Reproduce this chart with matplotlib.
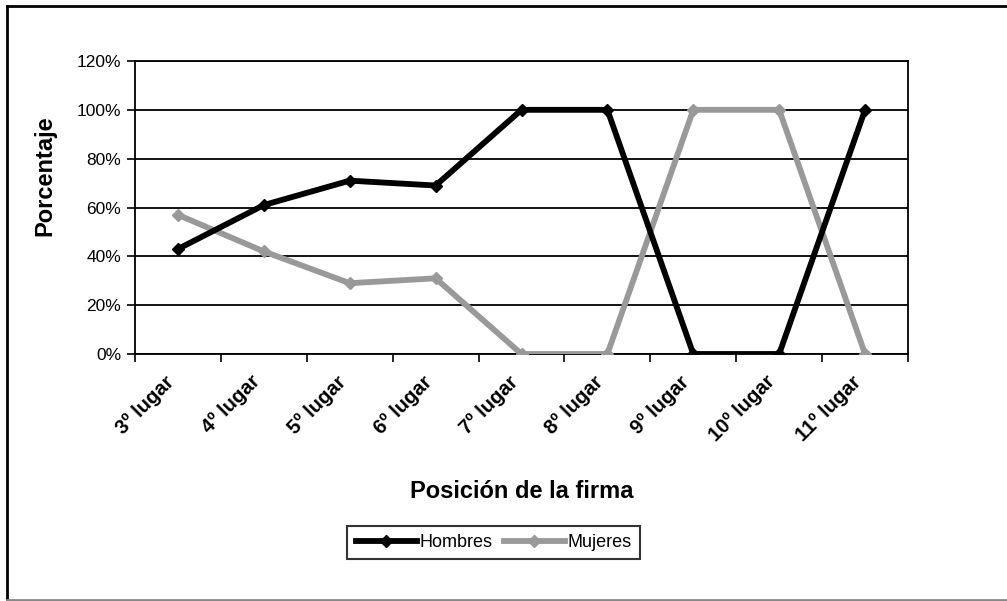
import matplotlib.pyplot as plt
from matplotlib.lines import Line2D
from matplotlib.ticker import FixedLocator, PercentFormatter

# --------------------------------------------------
# DATA
# --------------------------------------------------
posiciones = ["3º lugar", "4º lugar", "5º lugar", "6º lugar", "7º lugar",
              "8º lugar", "9º lugar", "10º lugar", "11º lugar"]
hombres = [43, 61, 71, 69, 100, 100, 0, 0, 100]
mujeres = [57, 42, 29, 31, 0, 0, 100, 100, 0]
y_ticks = [0, 20, 40, 60, 80, 100, 120]

plt.rcParams["font.family"] = ["Liberation Sans", "DejaVu Sans"]

W, H = 1007, 601
fig = plt.figure(figsize=(W / 100, H / 100), dpi=100)
ax = fig.add_axes([135 / W, 1 - 354 / H, (908 - 135) / W, (354 - 61) / H])

x = [i + 0.5 for i in range(len(posiciones))]
ax.plot(x, hombres, color="black", lw=4.2, marker="D", ms=6.5,
        label="Hombres", zorder=4)
ax.plot(x, mujeres, color="#999999", lw=4.2, marker="D", ms=6.5,
        label="Mujeres", zorder=3)

ax.set_xlim(0, len(posiciones))
ax.set_ylim(0, 120)

# y axis
ax.set_yticks(y_ticks)
ax.yaxis.set_major_formatter(PercentFormatter(decimals=0))
ax.tick_params(axis="y", direction="out", length=6, width=1.2,
               labelsize=12.5, pad=4)
ax.grid(axis="y", color="black", lw=1.3)
ax.set_axisbelow(True)

# x axis: tick marks between categories, labels at centres
ax.xaxis.set_major_locator(FixedLocator(range(len(posiciones) + 1)))
ax.xaxis.set_minor_locator(FixedLocator(x))
ax.set_xticklabels([], minor=False)
ax.set_xticklabels(posiciones, minor=True, rotation=45, ha="right",
                   fontweight="bold", fontsize=14.5)
ax.tick_params(axis="x", which="major", direction="out", length=6, width=1.2)
ax.tick_params(axis="x", which="minor", length=0, pad=13)

for s in ax.spines.values():
    s.set_color("black")
    s.set_linewidth(1.3)

ax.set_ylabel("Porcentaje", fontsize=17, fontweight="bold", va="center")
ax.yaxis.set_label_coords(-0.117, 0.607)
ax.set_xlabel("Posición de la firma", fontsize=17, fontweight="bold",
              va="top")
ax.xaxis.set_label_coords(0.5, -0.43)

leg = ax.legend(loc="upper center", bbox_to_anchor=(0.464, -0.556), ncol=2,
                fontsize=13, frameon=True, fancybox=False, handlelength=3.4,
                handletextpad=0.15, columnspacing=0.6, borderpad=0.45)
leg.get_frame().set_edgecolor("black")
leg.get_frame().set_linewidth(1.5)

# outer chart border
fig.add_artist(Line2D([7 / W, 1], [1 - 6 / H, 1 - 6 / H], color="black", lw=2))
fig.add_artist(Line2D([7 / W, 7 / W], [1 - 6 / H, 1 / H], color="black", lw=2))
fig.add_artist(Line2D([7 / W, 1], [1 / H, 1 / H], color="#888888", lw=2))

fig.savefig("out.png", dpi=100)
